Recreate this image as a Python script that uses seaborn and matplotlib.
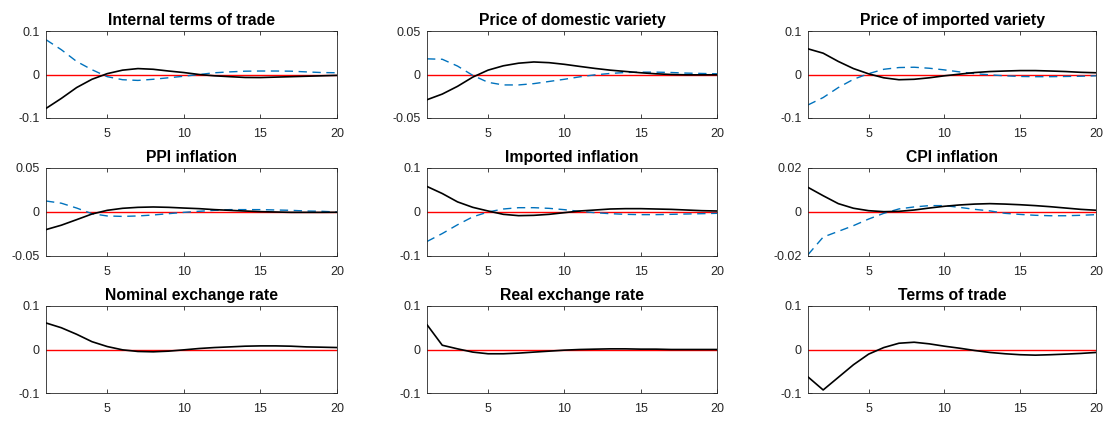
import numpy as np
import pandas as pd
import matplotlib
matplotlib.use("Agg")
import matplotlib.pyplot as plt
import seaborn as sns

sns.set_style("ticks")
plt.rcParams["font.family"] = ["Liberation Sans", "DejaVu Sans"]
plt.rcParams["axes.unicode_minus"] = False

horizon = list(range(1, 21))

titles = [
    "Internal terms of trade", "Price of domestic variety", "Price of imported variety",
    "PPI inflation", "Imported inflation", "CPI inflation",
    "Nominal exchange rate", "Real exchange rate", "Terms of trade",
]
y_limits = [0.1, 0.05, 0.1, 0.05, 0.1, 0.02, 0.1, 0.1, 0.1]
y_tick_labels = [
    ["-0.1", "0", "0.1"], ["-0.05", "0", "0.05"], ["-0.1", "0", "0.1"],
    ["-0.05", "0", "0.05"], ["-0.1", "0", "0.1"], ["-0.02", "0", "0.02"],
    ["-0.1", "0", "0.1"], ["-0.1", "0", "0.1"], ["-0.1", "0", "0.1"],
]

# Impulse responses: baseline (solid) and alternative (dashed)
itot_base = [-0.078, -0.055, -0.030, -0.011, 0.002, 0.010, 0.0136, 0.012, 0.008, 0.0045,
             0.0, -0.003, -0.005, -0.0068, -0.007, -0.006, -0.005, -0.004, -0.003, -0.002]
itot_alt = [0.080, 0.057, 0.030, 0.011, -0.005, -0.012, -0.0136, -0.011, -0.0075, -0.004,
            0.0, 0.004, 0.006, 0.0076, 0.008, 0.008, 0.0076, 0.006, 0.0045, 0.004]

pdom_base = [-0.029, -0.0225, -0.0136, -0.003, 0.005, 0.010, 0.013, 0.0144, 0.0136, 0.0117,
             0.0093, 0.007, 0.005, 0.0035, 0.002, 0.0008, 0.0, -0.0004, -0.0004, -0.0003]
pdom_alt = [0.018, 0.0175, 0.0097, -0.001, -0.009, -0.012, -0.012, -0.0105, -0.008, -0.0055,
            -0.0027, -0.0004, 0.0012, 0.0023, 0.0027, 0.0027, 0.0023, 0.0016, 0.0012, 0.0008]

pimp_base = [0.059, 0.049, 0.030, 0.0136, 0.0015, -0.0076, -0.012, -0.011, -0.0076, -0.003,
             0.0008, 0.0045, 0.0068, 0.008, 0.009, 0.009, 0.008, 0.0068, 0.005, 0.004]
pimp_alt = [-0.070, -0.053, -0.030, -0.011, 0.002, 0.012, 0.016, 0.0167, 0.0144, 0.0106,
            0.006, 0.002, -0.0008, -0.003, -0.0045, -0.005, -0.005, -0.0045, -0.004, -0.003]

ppi_base = [-0.020, -0.015, -0.0087, -0.0023, 0.0019, 0.0042, 0.0053, 0.0057, 0.0053, 0.0045,
            0.0038, 0.0027, 0.0019, 0.0011, 0.0004, 0.0, -0.0004, -0.0004, -0.0004, -0.0003]
ppi_alt = [0.0125, 0.010, 0.0045, -0.0019, -0.0045, -0.005, -0.0045, -0.0034, -0.0019, -0.0004,
           0.0008, 0.0019, 0.0027, 0.0027, 0.0027, 0.0023, 0.0019, 0.0011, 0.0008, 0.0]

impinf_base = [0.058, 0.042, 0.023, 0.0106, 0.0023, -0.0053, -0.0083, -0.0076, -0.0053, -0.0015,
               0.0023, 0.0045, 0.0068, 0.0076, 0.0076, 0.0068, 0.006, 0.0045, 0.003, 0.0023]
impinf_alt = [-0.067, -0.049, -0.029, -0.011, 0.0, 0.0068, 0.0098, 0.0098, 0.0083, 0.0053,
              0.0015, -0.0015, -0.0038, -0.0053, -0.006, -0.006, -0.0053, -0.0045, -0.0038, -0.003]

cpi_base = [0.0112, 0.0074, 0.0038, 0.0017, 0.0006, 0.00015, 0.0003, 0.0009, 0.0018, 0.0026,
            0.0032, 0.0036, 0.0038, 0.0036, 0.0033, 0.0029, 0.0024, 0.0018, 0.0012, 0.0008]
cpi_alt = [-0.0194, -0.0114, -0.0088, -0.0062, -0.0032, -0.0006, 0.0014, 0.0023, 0.0029, 0.0029,
           0.0021, 0.0012, 0.0005, -0.0006, -0.0011, -0.0015, -0.0017, -0.0017, -0.0015, -0.0012]

ner_base = [0.061, 0.050, 0.035, 0.018, 0.0068, -0.0008, -0.0045, -0.0053, -0.0038, -0.0008,
            0.0023, 0.0045, 0.006, 0.0076, 0.0083, 0.0083, 0.0076, 0.006, 0.0053, 0.0045]

rer_base = [0.057, 0.0098, 0.0015, -0.006, -0.0098, -0.0098, -0.0083, -0.006, -0.0038, -0.0015,
            0.0, 0.0008, 0.0015, 0.0015, 0.0008, 0.0008, 0.0, 0.0, 0.0, 0.0]

tot_base = [-0.063, -0.093, -0.064, -0.035, -0.0106, 0.0045, 0.0144, 0.0167, 0.013, 0.0076,
            0.003, -0.0023, -0.0068, -0.0098, -0.012, -0.013, -0.012, -0.0106, -0.009, -0.0068]

baseline = [itot_base, pdom_base, pimp_base, ppi_base, impinf_base, cpi_base,
            ner_base, rer_base, tot_base]
alternative = [itot_alt, pdom_alt, pimp_alt, ppi_alt, impinf_alt, cpi_alt,
               None, None, None]

W, H = 1110, 421
fig = plt.figure(figsize=(W / 100, H / 100), dpi=100)

col_left = [46, 427, 808]
col_width = [291, 290, 288]
row_top = [31, 168, 306]
row_height = [87, 88, 87]

axis_color = "#262626"
blue = "#0072BD"

for i, title in enumerate(titles):
    r, c = divmod(i, 3)
    ax = fig.add_axes([col_left[c] / W, 1 - (row_top[r] + row_height[r]) / H,
                       col_width[c] / W, row_height[r] / H])
    lim = y_limits[i]

    ax.axhline(0, color="red", lw=1.0, zorder=1)
    df = pd.DataFrame({"h": horizon, "v": baseline[i]})
    sns.lineplot(data=df, x="h", y="v", ax=ax, color="black", lw=1.2, zorder=3)
    if alternative[i] is not None:
        dfa = pd.DataFrame({"h": horizon, "v": alternative[i]})
        sns.lineplot(data=dfa, x="h", y="v", ax=ax, color=blue, lw=1.0,
                     linestyle=(0, (6, 4)), zorder=2)

    ax.set_xlim(1, 20)
    ax.set_ylim(-lim, lim)
    ax.set_xticks([5, 10, 15, 20])
    ax.set_yticks([-lim, 0, lim])
    ax.set_yticklabels(y_tick_labels[i])
    ax.set_xlabel("")
    ax.set_ylabel("")
    ax.set_title(title, fontsize=11.3, fontweight="bold", pad=4, color="black")
    ax.tick_params(direction="in", top=True, right=True, length=3, width=0.6,
                   colors=axis_color, labelsize=9)
    ax.tick_params(axis="x", pad=7)
    ax.tick_params(axis="y", pad=4.5)
    for sp in ax.spines.values():
        sp.set_visible(True)
        sp.set_color(axis_color)
        sp.set_linewidth(0.6)

fig.savefig("out.png", dpi=100)
